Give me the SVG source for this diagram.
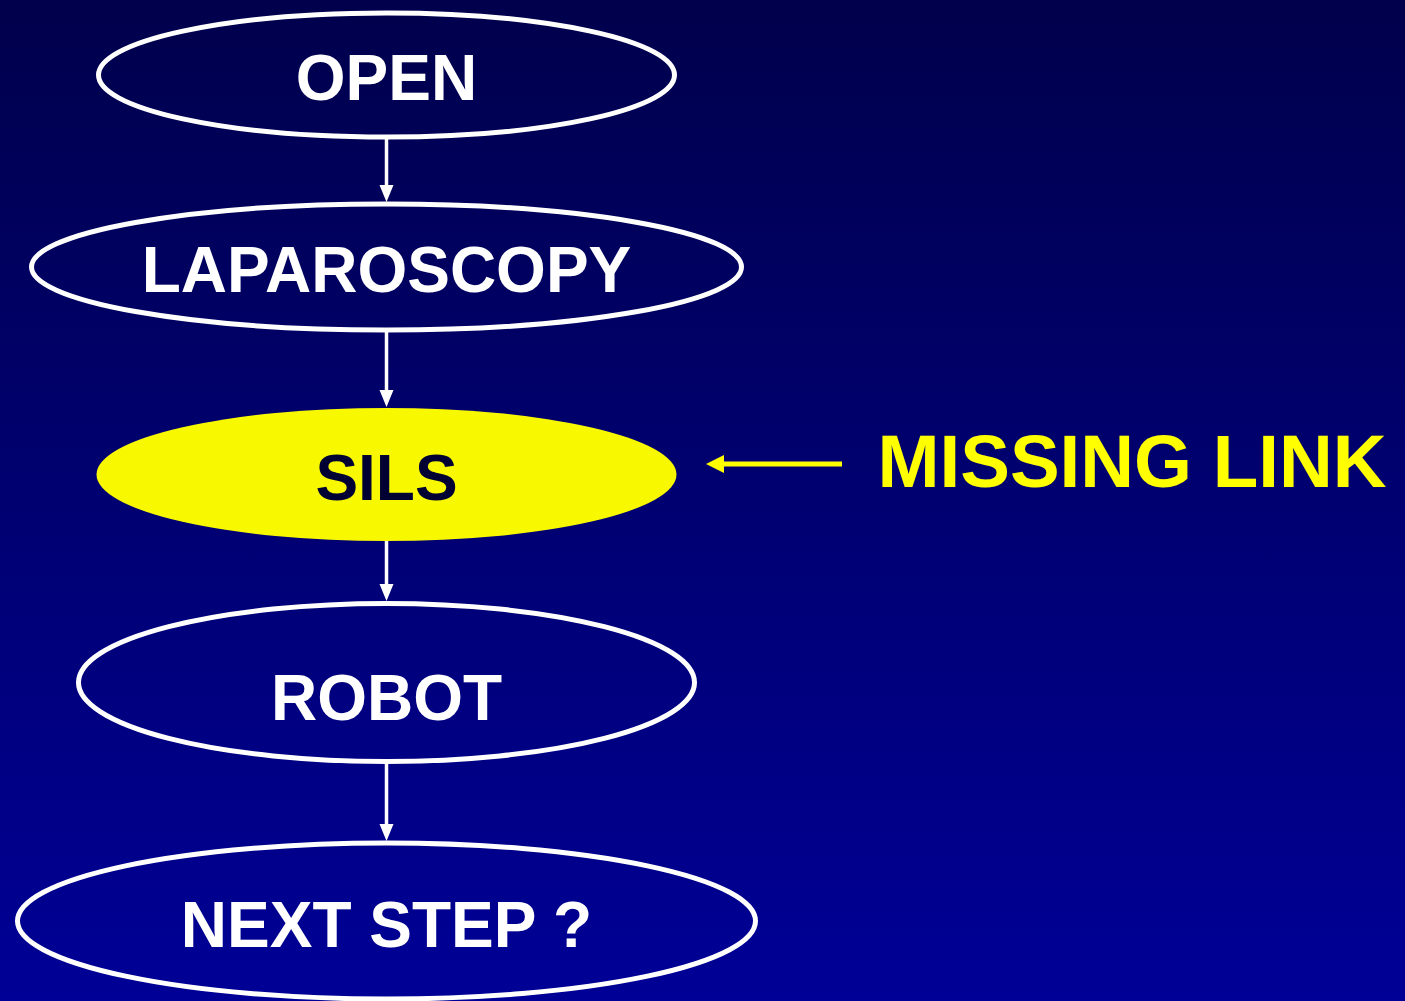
<svg xmlns="http://www.w3.org/2000/svg" width="1405" height="1001" viewBox="0 0 1405 1001">
  <defs>
    <linearGradient id="bg" x1="0" y1="0" x2="0" y2="1">
      <stop offset="0" stop-color="#00004c"/>
      <stop offset="1" stop-color="#000096"/>
    </linearGradient>
    <style>
      .node { fill: none; stroke: #ffffff; stroke-width: 5; }
      .lbl { font-family: "Liberation Sans", Arial, sans-serif; font-weight: bold; text-anchor: middle; fill: #ffffff; }
      .conn { stroke: #ffffff; stroke-width: 3.5; fill: none; }
      .head { fill: #ffffff; }
    </style>
  </defs>
  <rect x="0" y="0" width="1405" height="1001" fill="url(#bg)"/>

  <g id="connectors">
    <line class="conn" x1="386.5" y1="139" x2="386.5" y2="187"/>
    <path class="head" d="M379.5,185 L393.5,185 L386.5,202 Z"/>
    <line class="conn" x1="386.5" y1="332" x2="386.5" y2="392"/>
    <path class="head" d="M379.5,390 L393.5,390 L386.5,407 Z"/>
    <line class="conn" x1="386.5" y1="541" x2="386.5" y2="586"/>
    <path class="head" d="M379.5,584 L393.5,584 L386.5,601 Z"/>
    <line class="conn" x1="386.5" y1="764" x2="386.5" y2="826"/>
    <path class="head" d="M379.5,824 L393.5,824 L386.5,841 Z"/>
    <line x1="722" y1="464" x2="842" y2="464" stroke="#ffff00" stroke-width="5"/>
    <path d="M724,455 L724,473 L706,464 Z" fill="#ffff00"/>
  </g>

  <g id="open">
    <ellipse class="node" cx="386.5" cy="75" rx="288" ry="62"/>
    <text class="lbl" x="386.5" y="100" font-size="64">OPEN</text>
  </g>
  <g id="laparoscopy">
    <ellipse class="node" cx="386.5" cy="267" rx="355" ry="63"/>
    <text class="lbl" x="386.5" y="292" font-size="64">LAPAROSCOPY</text>
  </g>
  <g id="sils">
    <ellipse cx="386.5" cy="474.5" rx="290" ry="66.5" fill="#f8f800"/>
    <text class="lbl" x="386.5" y="500" font-size="64" style="fill:#000033">SILS</text>
  </g>
  <g id="robot">
    <ellipse class="node" cx="386.5" cy="682.5" rx="308" ry="79"/>
    <text class="lbl" x="386.5" y="720" font-size="64">ROBOT</text>
  </g>
  <g id="next-step">
    <ellipse class="node" cx="386.5" cy="921" rx="369" ry="78"/>
    <text class="lbl" x="386.5" y="947" font-size="64">NEXT STEP ?</text>
  </g>
  <g id="missing-link">
    <text x="1132" y="487" font-family="Liberation Sans, Arial, sans-serif" font-weight="bold" font-size="74.5" fill="#ffff00" text-anchor="middle">MISSING LINK</text>
  </g>
</svg>
